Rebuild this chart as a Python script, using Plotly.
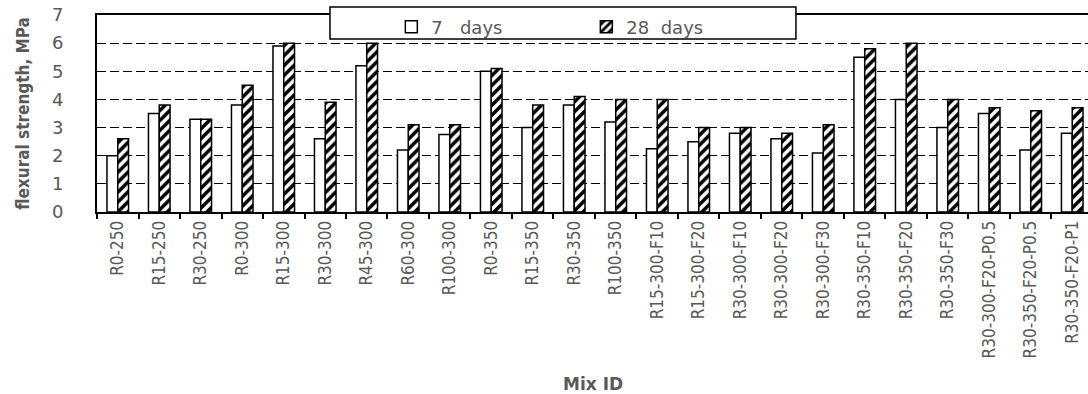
import plotly.graph_objects as go

mix_ids = ["R0-250", "R15-250", "R30-250", "R0-300", "R15-300", "R30-300", "R45-300",
           "R60-300", "R100-300", "R0-350", "R15-350", "R30-350", "R100-350",
           "R15-300-F10", "R15-300-F20", "R30-300-F10", "R30-300-F20", "R30-300-F30",
           "R30-350-F10", "R30-350-F20", "R30-350-F30", "R30-300-F20-P0.5",
           "R30-350-F20-P0.5", "R30-350-F20-P1"]
days7 = [2.0, 3.5, 3.3, 3.8, 5.9, 2.6, 5.2, 2.2, 2.75, 5.0, 3.0, 3.8, 3.2,
         2.25, 2.5, 2.8, 2.6, 2.1, 5.5, 4.0, 3.0, 3.5, 2.2, 2.8]
days28 = [2.6, 3.8, 3.3, 4.5, 6.0, 3.9, 6.0, 3.1, 3.1, 5.1, 3.8, 4.1, 4.0,
          4.0, 3.0, 3.0, 2.8, 3.1, 5.8, 6.0, 4.0, 3.7, 3.6, 3.7]
y_ticks = [0, 1, 2, 3, 4, 5, 6, 7]

GRAY = "#595959"

fig = go.Figure()
fig.add_trace(go.Bar(
    x=mix_ids, y=days7, name="7   days",
    marker=dict(color="white", line=dict(color="black", width=1.5)),
))
fig.add_trace(go.Bar(
    x=mix_ids, y=days28, name="28  days",
    marker=dict(color="white", line=dict(color="black", width=1.5),
                pattern=dict(shape="/", fgcolor="black", bgcolor="white",
                             size=7, solidity=0.5, fillmode="replace")),
))

fig.update_layout(
    width=1088, height=394,
    margin=dict(l=97, r=0, t=15, b=182, autoexpand=False),
    plot_bgcolor="white", paper_bgcolor="white",
    barmode="group", bargap=0.48, bargroupgap=0,
    showlegend=True,
    legend=dict(
        orientation="h", x=0.297, y=1.033, xanchor="left", yanchor="top",
        bgcolor="rgba(0,0,0,0)", borderwidth=0,
        font=dict(family="DejaVu Sans", size=18, color=GRAY),
        entrywidth=150, itemwidth=30,
    ),
    shapes=[dict(type="rect", xref="paper", yref="paper",
                 x0=0.2351, x1=0.7053, y0=0.878, y1=1.0406,
                 line=dict(color="black", width=1.5), fillcolor="white",
                 layer="above")],
    annotations=[dict(text="<b>Mix ID</b>", xref="paper", yref="paper",
                      x=0.50, y=-0.873, xanchor="center", yanchor="middle",
                      showarrow=False,
                      font=dict(family="DejaVu Sans", size=17, color=GRAY))],
)

fig.update_xaxes(
    type="category", range=[-0.5, 23.38], automargin=False,
    showline=True, linecolor="black", linewidth=2, mirror=True,
    ticks="outside", tickson="boundaries", ticklen=5, tickwidth=2, tickcolor="black",
    tickangle=-90,
    tickfont=dict(family="DejaVu Sans Condensed", size=17, color=GRAY),
    showgrid=False,
)
fig.update_yaxes(
    range=[0, 7], tickvals=y_ticks, automargin=False, ticklabeloverflow="allow",
    showline=True, linecolor="black", linewidth=2,
    showgrid=True, gridcolor="black", gridwidth=1.3, griddash="9px,4px",
    ticks="", ticklabelstandoff=28,
    tickfont=dict(family="DejaVu Sans", size=18, color=GRAY),
    title=dict(text="<b>flexural strength, MPa</b>", standoff=18,
               font=dict(family="DejaVu Sans Condensed", size=17, color=GRAY)),
    zeroline=False,
)

fig.write_html("out.html", config={"displayModeBar": False},
               post_script="document.body.style.margin='0';")
